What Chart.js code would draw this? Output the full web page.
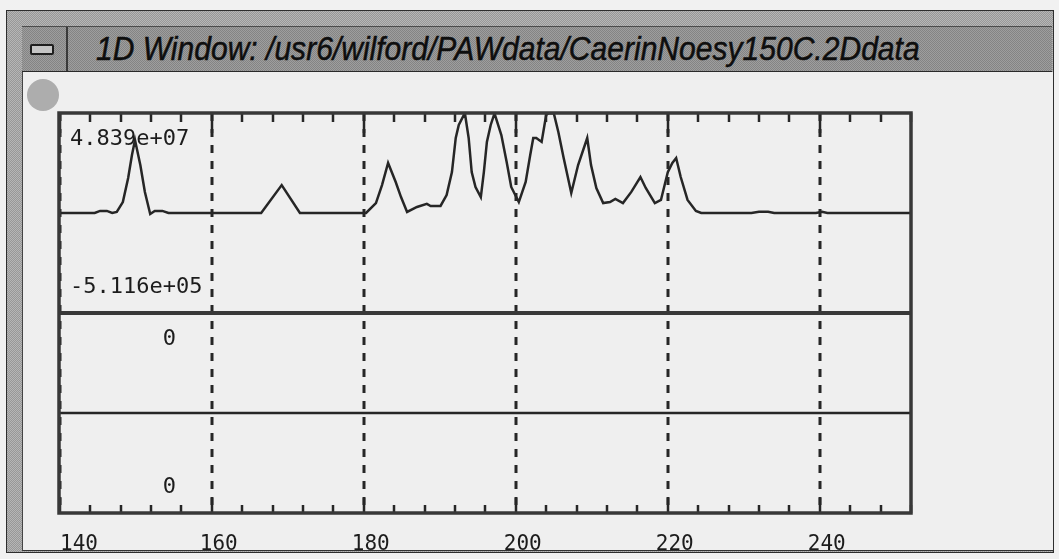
<!DOCTYPE html>
<html>
<head>
<meta charset="utf-8">
<script src="https://cdn.jsdelivr.net/npm/chart.js@4"></script>
<style>
  html, body { margin: 0; padding: 0; }
  body { width: 1059px; height: 559px; overflow: hidden; position: relative; background: #f1f1f1; font-family: "Liberation Sans", sans-serif; }
  .frame { position: absolute; left: 6px; top: 10px; width: 1046px; height: 541px; border: 1px solid #2e2e2e;
           background: repeating-conic-gradient(#989898 0 25%, #b6b6b6 0 50%) 0 0 / 2px 2px; }
  .titlebar { position: absolute; left: 22px; top: 26px; width: 1030px; height: 44px; border-top: 1px solid #4a4a4a; border-bottom: 2px solid #2a2a2a;
              background: repeating-conic-gradient(#848484 0 25%, #9e9e9e 0 50%) 0 0 / 2px 2px; overflow: hidden; }
  .minbtn { position: absolute; left: 8px; top: 17px; width: 20px; height: 7px; border: 2px solid #1e1e1e; border-radius: 2px; background: #c4c4c4; }
  .sep { position: absolute; left: 44px; top: 0; width: 2px; height: 44px; background: #3a3a3a; }
  .title { position: absolute; left: 74px; top: 3px; font-style: italic; font-size: 33px; color: #0e0e0e; white-space: nowrap;
           transform-origin: 0 0; display: inline-block; -webkit-text-stroke: 0.5px #0e0e0e; }
  .content { position: absolute; left: 22px; top: 72px; width: 1030px; height: 478px; background: #efefef; border-left: 1px solid #444; border-bottom: 1px solid #333; }
  .knob { position: absolute; left: 27px; top: 79px; width: 32px; height: 32px; border-radius: 50%; background: #adadad; }
  #chart { position: absolute; left: 0; top: 0; }
</style>
</head>
<body>
<div class="frame"></div>
<div class="titlebar">
  <div class="minbtn"></div>
  <div class="sep"></div>
  <span class="title" id="title">1D Window: /usr6/wilford/PAWdata/CaerinNoesy150C.2Ddata</span>
</div>
<div class="content"></div>
<div class="knob"></div>
<canvas id="chart" width="1059" height="559"></canvas>
<script>
// axis labels along the bottom
const xLabels = [140, 160, 180, 200, 220, 240];
const xMin = 139.9;
const xMax = 252;

// 1D row slice (upper panel)
const shifts = [139.9, 144.6, 145.3, 146.2, 146.9, 147.5, 148.3, 149.0, 149.5, 149.9, 150.6, 151.2, 151.9, 152.5, 153.5, 154.3,
    166.5, 169.2, 171.6, 180.3, 181.6, 182.4, 183.2, 184.2, 184.9, 185.7, 187.0, 188.3, 188.8, 190.1, 190.9, 191.6,
    192.1, 192.5, 193.3, 193.8, 194.2, 194.7, 195.4, 195.8, 196.2, 196.7, 197.2, 198.1, 198.8, 199.4, 200.4, 201.3,
    201.9, 202.3, 202.7, 203.4, 204.0, 204.3, 205.0, 205.6, 206.3, 207.3, 208.2, 209.4, 209.9, 210.6, 211.5, 212.4,
    213.1, 214.1, 215.2, 216.4, 217.1, 218.3, 219.1, 220.0, 220.6, 221.1, 221.7, 222.6, 223.7, 224.4, 231.0, 232.0,
    233.2, 234.0, 239.5, 240.3, 241.0, 252.0];
const intensity = [0, 0, 0.1e7, 0.1e7, 0, 0.05e7, 0.53e7, 1.69e7, 2.81e7, 3.53e7, 2.32e7, 1.02e7, -5.116e5, 0.1e7, 0.1e7, 0,
    0, 1.35e7, 0, 0, 0.48e7, 1.35e7, 2.42e7, 1.5e7, 0.77e7, 0.05e7, 0.29e7, 0.44e7, 0.34e7, 0.34e7, 0.87e7, 1.98e7,
    3.63e7, 4.26e7, 4.839e7, 3.63e7, 1.98e7, 1.26e7, 0.77e7, 1.98e7, 3.44e7, 4.26e7, 4.82e7, 3.77e7, 2.47e7, 1.26e7, 0.53e7, 1.5e7,
    2.81e7, 3.63e7, 3.63e7, 3.44e7, 4.74e7, 4.83e7, 4.83e7, 3.92e7, 2.66e7, 0.97e7, 2.32e7, 3.63e7, 2.32e7, 1.21e7, 0.48e7, 0.53e7,
    0.68e7, 0.48e7, 1.02e7, 1.74e7, 1.21e7, 0.48e7, 0.63e7, 1.98e7, 2.42e7, 2.66e7, 1.74e7, 0.63e7, 0.1e7, 0, 0, 0.06e7,
    0.06e7, 0, 0, 0.06e7, 0, 0];

// second slice (lower panel), empty
const lowerShifts = [139.9, 252.0];
const lowerIntensity = [0, 0];

const title = document.getElementById('title');
title.style.transform = 'scaleX(' + (824 / title.offsetWidth) + ')';

const fmtExp = v => {
    if (v === 0) return '0';
    const [m, e] = v.toExponential(3).split('e');
    const n = parseInt(e, 10);
    return m + 'e' + (n < 0 ? '-' : '+') + String(Math.abs(n)).padStart(2, '0');
};

const topMax = Math.max(...intensity);
const monoFont = '22px "DejaVu Sans Mono", monospace';
const ink = '#262626';

const panelFrame = {
    id: 'panelFrame',
    beforeDatasetsDraw(chart) {
        const { ctx, chartArea: a, scales } = chart;
        const x = scales.x;
        ctx.save();
        ctx.strokeStyle = ink;
        ctx.lineWidth = 3;
        ctx.setLineDash([8, 8]);
        xLabels.forEach(v => {
            if (v <= xMin) return;
            const px = Math.round(x.getPixelForValue(v));
            ctx.beginPath();
            ctx.moveTo(px, a.top);
            ctx.lineTo(px, a.bottom);
            ctx.stroke();
        });
        ctx.restore();
    },
    afterDatasetsDraw(chart) {
        const { ctx, chartArea: a, scales } = chart;
        const x = scales.x;
        const split = scales.yTop.bottom;
        ctx.save();
        ctx.strokeStyle = ink;

        // tick marks, top and bottom, every 4 units
        ctx.lineWidth = 2.5;
        for (let v = 140; v <= xMax; v += 4) {
            const px = Math.round(x.getPixelForValue(v));
            const major = v % 20 === 0;
            ctx.beginPath();
            ctx.moveTo(px, a.top);
            ctx.lineTo(px, a.top + (major ? 20 : 9));
            ctx.moveTo(px, a.bottom);
            ctx.lineTo(px, a.bottom - (major ? 15 : 8));
            ctx.stroke();
        }

        // outer box and panel divider
        ctx.strokeStyle = '#383838';
        ctx.lineWidth = 3.5;
        ctx.strokeRect(a.left, a.top, a.right - a.left, a.bottom - a.top);
        ctx.lineWidth = 4;
        ctx.beginPath();
        ctx.moveTo(a.left, split);
        ctx.lineTo(a.right, split);
        ctx.stroke();

        // max / min per panel
        ctx.fillStyle = '#1c1c1c';
        ctx.font = monoFont;
        ctx.textBaseline = 'alphabetic';
        ctx.textAlign = 'left';
        const panels = [
            [scales.yTop, intensity],
            [scales.yLow, lowerIntensity]
        ];
        panels.forEach(([s, vals]) => {
            const hi = fmtExp(Math.max(...vals)).padStart(8, ' ');
            const lo = fmtExp(Math.min(...vals)).padStart(8, ' ');
            ctx.fillText(hi, a.left + 11, s.top + 32);
            ctx.fillText(lo, a.left + 11, s.bottom - 20);
        });

        // bottom axis numbers
        ctx.font = '21px "DejaVu Sans Mono", monospace';
        xLabels.forEach(v => {
            const px = Math.max(x.getPixelForValue(v) - 12, a.left + 1);
            ctx.fillText(String(v), px, a.bottom + 37);
        });
        ctx.restore();
    }
};

new Chart(document.getElementById('chart'), {
    type: 'line',
    data: {
        datasets: [{
            data: lowerShifts.map((s, i) => ({ x: s, y: lowerIntensity[i] })),
            yAxisID: 'yLow',
            borderColor: ink,
            borderWidth: 2.5,
            pointRadius: 0,
            tension: 0
        }, {
            data: shifts.map((s, i) => ({ x: s, y: intensity[i] })),
            yAxisID: 'yTop',
            borderColor: ink,
            borderWidth: 2.5,
            pointRadius: 0,
            tension: 0
        }]
    },
    options: {
        responsive: false,
        animation: false,
        layout: { padding: { left: 59, top: 113, right: 148, bottom: 46 } },
        plugins: { legend: { display: false }, tooltip: { enabled: false } },
        scales: {
            x: { type: 'linear', min: xMin, max: xMax, display: false },
            yLow: { type: 'linear', min: -1, max: 1, display: false, stack: 'panels', stackWeight: 1 },
            yTop: { type: 'linear', min: -topMax, max: topMax, display: false, stack: 'panels', stackWeight: 1 }
        }
    },
    plugins: [panelFrame]
});
</script>
</body>
</html>
